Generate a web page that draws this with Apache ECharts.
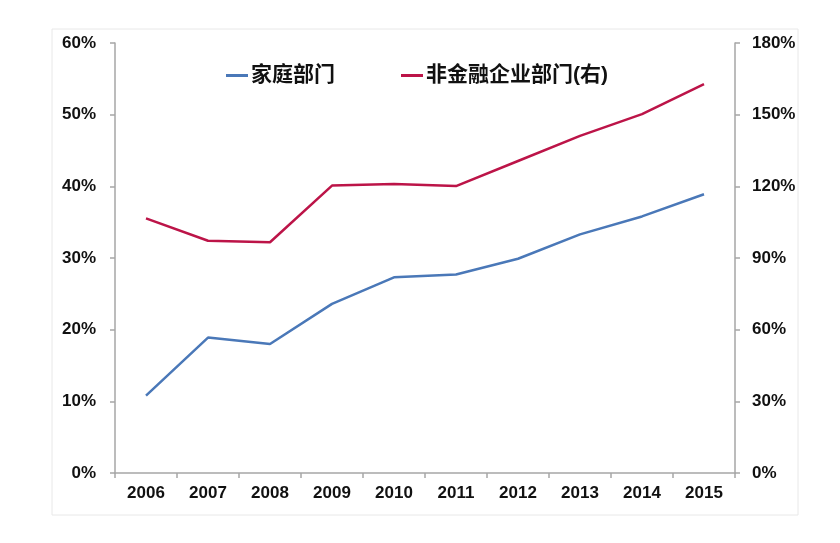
<!DOCTYPE html>
<html>
<head>
<meta charset="utf-8">
<script src="https://cdn.jsdelivr.net/npm/echarts@6/dist/echarts.min.js"></script>
<style>
html,body{margin:0;padding:0;background:#fff;}
#main{width:840px;height:543px;}
</style>
</head>
<body>
<div id="main"></div>
<script>
var categories = ['2006','2007','2008','2009','2010','2011','2012','2013','2014','2015'];
var household = [10.8, 18.9, 18.0, 23.6, 27.3, 27.7, 29.9, 33.3, 35.8, 38.9];
var nonfinCorp = [106.6, 97.2, 96.6, 120.3, 121.0, 120.1, 130.6, 141.1, 150.2, 162.8];
var seriesNames = ['家庭部门', '非金融企业部门(右)'];

var FONT = '"Liberation Sans", Arial, "Noto Sans CJK SC", sans-serif';
var axisColor = '#a6a6a6';
var chart = echarts.init(document.getElementById('main'));
chart.setOption({
  animation: false,
  backgroundColor: '#fff',
  graphic: [{
    type: 'rect',
    shape: {x: 52, y: 29, width: 746, height: 486},
    style: {fill: 'none', stroke: '#e8e8e8', lineWidth: 1},
    silent: true, z: -1
  }],
  grid: {left: 115, right: 105, top: 43, bottom: 70},
  legend: {
    left: 221, top: 60,
    itemWidth: 22, itemHeight: 3, itemGap: 66,
    icon: 'rect',
    textStyle: {fontFamily: FONT, fontSize: 21, fontWeight: 'bold', color: '#111', padding: [0, 0, 0, -2]},
    data: seriesNames
  },
  xAxis: {
    type: 'category',
    data: categories,
    boundaryGap: true,
    axisLine: {lineStyle: {color: axisColor, width: 1.5}},
    axisTick: {show: true, length: 5, lineStyle: {color: axisColor, width: 1.5}},
    axisLabel: {margin: 12, fontFamily: FONT, fontSize: 17, fontWeight: 'bold', color: '#111'}
  },
  yAxis: [{
    type: 'value', min: 0, max: 60, interval: 10,
    axisLine: {show: true, lineStyle: {color: axisColor, width: 1.5}},
    axisTick: {show: true, length: 5, lineStyle: {color: axisColor, width: 1.5}},
    splitLine: {show: false},
    axisLabel: {margin: 19, formatter: '{value}%', fontFamily: FONT, fontSize: 17, fontWeight: 'bold', color: '#111'}
  }, {
    type: 'value', min: 0, max: 180, interval: 30, position: 'right',
    axisLine: {show: true, lineStyle: {color: axisColor, width: 1.5}},
    axisTick: {show: true, length: 5, lineStyle: {color: axisColor, width: 1.5}},
    splitLine: {show: false},
    axisLabel: {margin: 17, formatter: '{value}%', fontFamily: FONT, fontSize: 17, fontWeight: 'bold', color: '#111'}
  }],
  series: [{
    name: seriesNames[0], type: 'line', yAxisIndex: 0,
    data: household, symbol: 'none',
    lineStyle: {color: '#4A78B8', width: 2.5},
    itemStyle: {color: '#4A78B8'}
  }, {
    name: seriesNames[1], type: 'line', yAxisIndex: 1,
    data: nonfinCorp, symbol: 'none',
    lineStyle: {color: '#BC1448', width: 2.5},
    itemStyle: {color: '#BC1448'}
  }]
});
</script>
</body>
</html>
